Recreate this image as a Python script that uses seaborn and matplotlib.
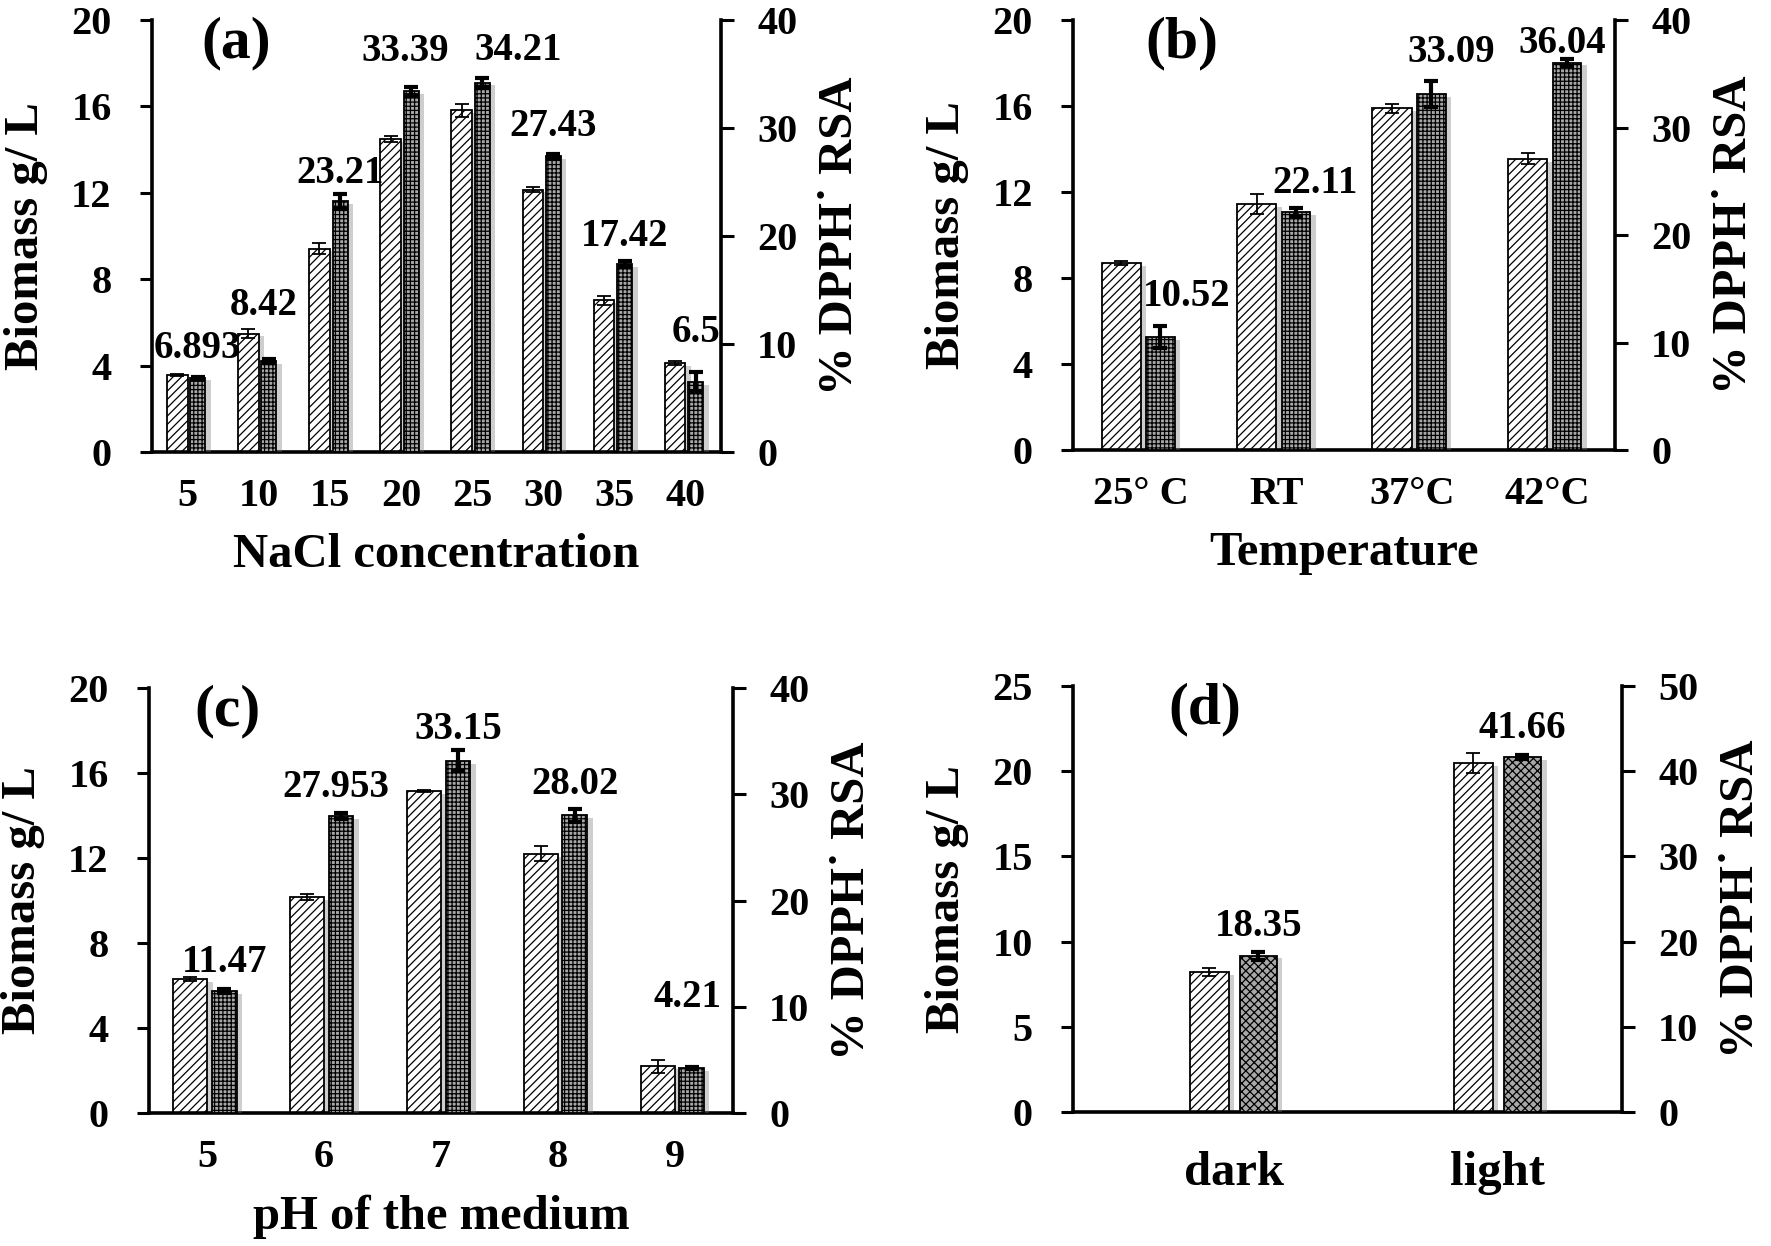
import numpy as np
import pandas as pd
import seaborn as sns
import matplotlib.pyplot as plt
import matplotlib.patheffects as pe

# (a) NaCl concentration
nacl_cats = ['5', '10', '15', '20', '25', '30', '35', '40']
nacl_biomass = [3.55, 5.48, 9.42, 14.5, 15.83, 12.15, 7.03, 4.12]
nacl_biomass_err = [0.05, 0.2, 0.25, 0.15, 0.3, 0.1, 0.2, 0.1]
nacl_dpph = [6.893, 8.42, 23.21, 33.39, 34.21, 27.43, 17.42, 6.5]
nacl_dpph_err = [0.1, 0.2, 0.7, 0.4, 0.4, 0.2, 0.3, 0.9]

# (b) Temperature
temp_cats = ['25° C', 'RT', '37°C', '42°C']
temp_biomass = [8.7, 11.44, 15.9, 13.55]
temp_biomass_err = [0.1, 0.47, 0.2, 0.25]
temp_dpph = [10.52, 22.11, 33.09, 36.04]
temp_dpph_err = [1.0, 0.4, 1.2, 0.3]

# (c) pH
ph_cats = ['5', '6', '7', '8', '9']
ph_biomass = [6.3, 10.16, 15.15, 12.2, 2.2]
ph_biomass_err = [0.1, 0.15, 0.05, 0.35, 0.3]
ph_dpph = [11.47, 27.953, 33.15, 28.02, 4.21]
ph_dpph_err = [0.2, 0.3, 1.0, 0.6, 0.1]

# (d) light
light_cats = ['dark', 'light']
light_biomass = [8.2, 20.5]
light_biomass_err = [0.23, 0.6]
light_dpph = [18.35, 41.66]
light_dpph_err = [0.45, 0.2]

sns.set_style('white')
plt.rcParams['font.family'] = ['Liberation Serif', 'DejaVu Serif']
plt.rcParams.update({
    'font.weight': 'bold',
    'axes.labelweight': 'bold',
    'text.color': 'black',
    'axes.labelcolor': 'black',
    'axes.edgecolor': 'black',
    'xtick.color': 'black',
    'ytick.color': 'black',
    'hatch.linewidth': 0.9,
})

fig = plt.figure(figsize=(17.71, 12.46), dpi=100)

TICK_FS = 29
LABEL_FS = 35
VALUE_FS = 28


class PlainShadow(pe.SimplePatchShadow):
    # soft drop shadow without the hatch pattern
    def draw_path(self, renderer, gc, tpath, affine, rgbFace):
        gc1 = renderer.new_gc()
        gc1.copy_properties(gc)
        gc1.set_hatch(None)
        super().draw_path(renderer, gc1, tpath, affine, rgbFace)
        gc1.restore()


shadow = [PlainShadow(offset=(4, -2), shadow_rgbFace='0.45', alpha=0.35), pe.Normal()]


def panel(rect, cats, biomass, biomass_err, dpph, dpph_err, left_max, left_step,
          right_max, xlabel, letter, letter_xy, label_dy, label_dx,
          dpph_hatch='++++', shift=0.145, bio_w=0.29, dpph_w=0.21, xlim=None,
          tick_fs=TICK_FS, tick_pad=19):
    ax = fig.add_axes(rect)
    ax2 = ax.twinx()
    n = len(cats)
    idx = np.arange(n)
    df_b = pd.DataFrame({'pos': idx - shift, 'value': biomass})
    df_d = pd.DataFrame({'pos': idx + shift, 'value': dpph})
    sns.barplot(data=df_b, x='pos', y='value', native_scale=True, width=bio_w,
                color='white', saturation=1, errorbar=None, edgecolor='black',
                linewidth=1.3, hatch='////', ax=ax)
    sns.barplot(data=df_d, x='pos', y='value', native_scale=True, width=dpph_w,
                color='#a8a8a8', saturation=1, errorbar=None, edgecolor='black',
                linewidth=1.3, hatch=dpph_hatch, ax=ax2)
    for axis in (ax, ax2):
        for p in axis.patches:
            p.set_path_effects(shadow)

    bx = [p.get_x() + p.get_width() / 2 for p in ax.patches]
    dx = [p.get_x() + p.get_width() / 2 for p in ax2.patches]
    ax.errorbar(bx, biomass, yerr=biomass_err, fmt='none', ecolor='black',
                elinewidth=1.3, capsize=5, capthick=1.3, zorder=5)
    ax2.errorbar(dx, dpph, yerr=dpph_err, fmt='none', ecolor='black',
                 elinewidth=3, capsize=5, capthick=3, zorder=5)

    for x, v, oy, ox in zip(dx, dpph, label_dy, label_dx):
        ax2.annotate(str(v), xy=(x, v), xytext=(ox, oy), textcoords='offset points',
                     ha='center', va='baseline', fontsize=VALUE_FS, fontweight='bold',
                     zorder=6)

    ax.set_ylim(0, left_max)
    ax.set_yticks(np.arange(0, left_max + 0.01, left_step))
    ax2.set_ylim(0, right_max)
    ax2.set_yticks(np.arange(0, right_max + 0.01, 10))

    if xlim is None:
        xlim = (-0.5, n - 0.5)
        major = np.arange(n + 1) - 0.5
    else:
        major = np.arange(n - 1) + 0.5
    ax.set_xticks(major, [''] * len(major))
    ax.set_xticks(idx, cats, minor=True)
    ax.set_xlim(*xlim)

    ax.tick_params(axis='x', which='major', direction='out', length=9, width=2.2)
    ax.tick_params(axis='x', which='minor', length=0, pad=tick_pad, labelsize=tick_fs)
    ax.tick_params(axis='y', direction='out', length=9, width=2.2, pad=20,
                   labelsize=TICK_FS)
    ax2.tick_params(axis='y', direction='out', length=9, width=2.2, pad=17,
                    labelsize=TICK_FS)

    for s in ('top', 'right'):
        ax.spines[s].set_visible(False)
    for s in ('top', 'left', 'bottom'):
        ax2.spines[s].set_visible(False)
    for s in ('left', 'bottom'):
        ax.spines[s].set_linewidth(2.6)
    ax2.spines['right'].set_linewidth(2.6)

    ax.set_ylabel('Biomass g/ L', fontsize=LABEL_FS, labelpad=17)
    ax2.set_ylabel('% DPPH˙ RSA', fontsize=LABEL_FS, labelpad=15)
    ax.set_xlabel(xlabel, fontsize=LABEL_FS, labelpad=13)
    ax.text(letter_xy[0], letter_xy[1], letter, transform=ax.transAxes,
            fontsize=43, fontweight='bold', ha='center', va='center', zorder=7)
    return ax, ax2


panel([0.0858, 0.6372, 0.3213, 0.3467], nacl_cats, nacl_biomass, nacl_biomass_err,
      nacl_dpph, nacl_dpph_err, 20, 4, 40, 'NaCl concentration', '(a)', (0.148, 0.945),
      label_dy=[14, 33, 13, 22, 16, 14, 13, 29],
      label_dx=[0, -4, 0, -4, 26, 0, 0, 0])

panel([0.6059, 0.6388, 0.3060, 0.3451], temp_cats, temp_biomass, temp_biomass_err,
      temp_dpph, temp_dpph_err, 20, 4, 40, 'Temperature', '(b)', (0.2, 0.945),
      label_dy=[22, 14, 23, 7], label_dx=[19, 14, 14, -3])

panel([0.0841, 0.1067, 0.3298, 0.3411], ph_cats, ph_biomass, ph_biomass_err,
      ph_dpph, ph_dpph_err, 20, 4, 40, 'pH of the medium', '(c)', (0.135, 0.945),
      label_dy=[14, 14, 16, 15, 44], label_dx=[0, -4, 0, 0, -3])

panel([0.6059, 0.1075, 0.3100, 0.3419], light_cats, light_biomass, light_biomass_err,
      light_dpph, light_dpph_err, 25, 5, 50, '', '(d)', (0.24, 0.945),
      label_dy=[14, 14], label_dx=[0, 0],
      dpph_hatch='xxxx', shift=0.093, bio_w=0.148, dpph_w=0.14, xlim=(-0.608, 1.47),
      tick_fs=LABEL_FS, tick_pad=28)

fig.savefig('out.png', dpi=100)
